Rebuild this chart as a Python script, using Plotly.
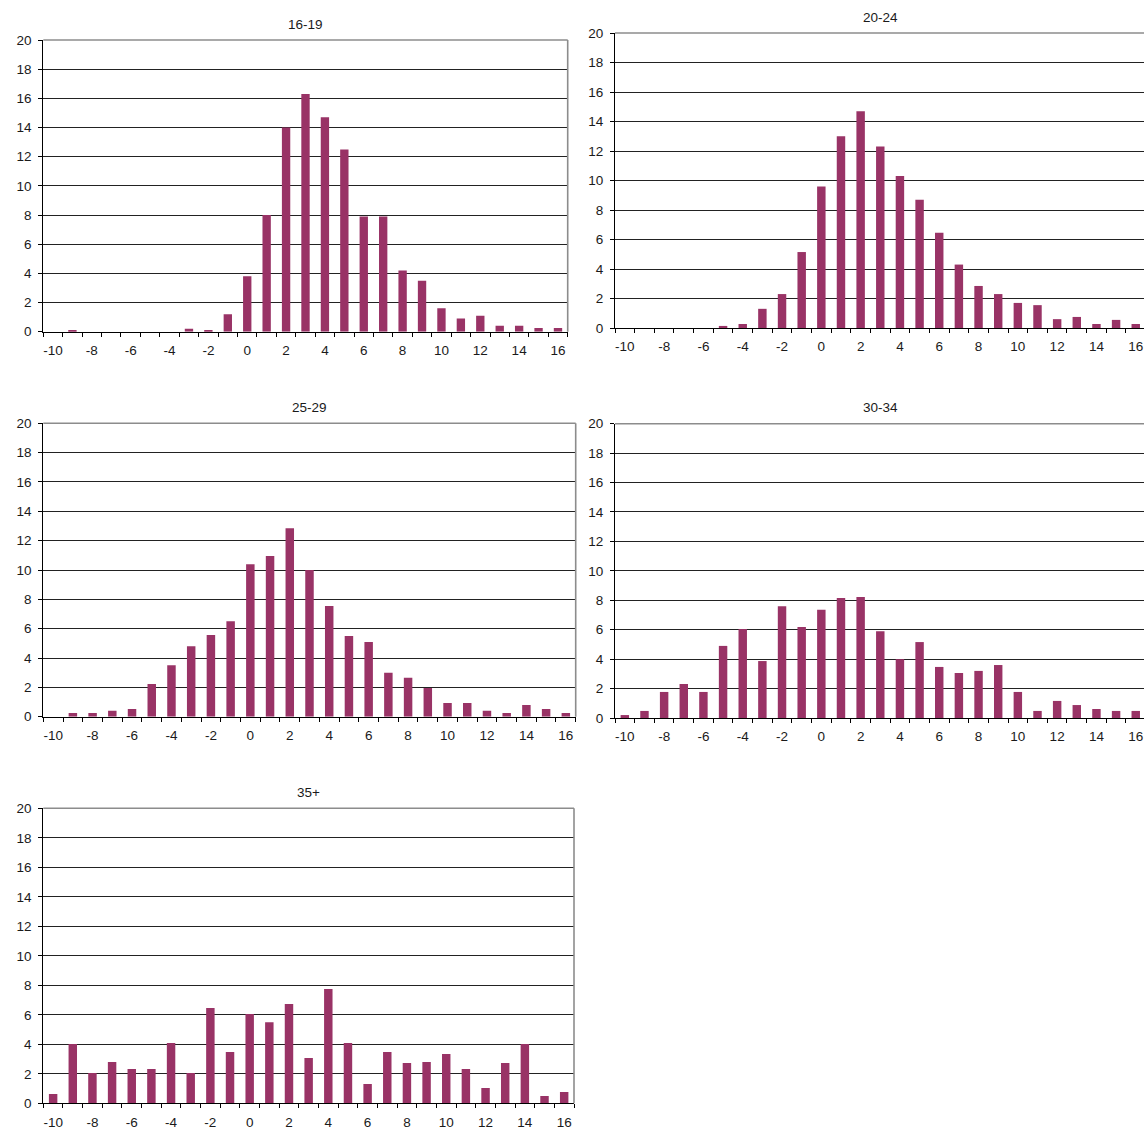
import plotly.graph_objects as go

# ---------------- data ----------------
categories = [-10, -9, -8, -7, -6, -5, -4, -3, -2, -1, 0, 1, 2, 3, 4, 5, 6, 7, 8, 9, 10, 11, 12, 13, 14, 15, 16]
tick_labels = [-10, -8, -6, -4, -2, 0, 2, 4, 6, 8, 10, 12, 14, 16]

titles = ["16-19", "20-24", "25-29", "30-34", "35+"]

v16_19 = [0, 0.1, 0, 0, 0, 0, 0, 0.2, 0.1, 1.2, 3.8, 8.0, 14.0, 16.3, 14.7, 12.5, 7.9, 7.9,
          4.2, 3.5, 1.6, 0.9, 1.1, 0.4, 0.4, 0.25, 0.25]
v20_24 = [0, 0, 0, 0, 0, 0.14, 0.27, 1.3, 2.3, 5.15, 9.6, 13.0, 14.7, 12.3, 10.3, 8.7, 6.45, 4.3,
          2.85, 2.3, 1.7, 1.55, 0.6, 0.75, 0.27, 0.55, 0.27]
v25_29 = [0, 0.25, 0.25, 0.4, 0.52, 2.23, 3.5, 4.8, 5.57, 6.5, 10.4, 10.95, 12.85, 10.0, 7.55, 5.5,
          5.1, 3.0, 2.65, 1.95, 0.93, 0.93, 0.4, 0.25, 0.8, 0.52, 0.25]
v30_34 = [0.2, 0.48, 1.77, 2.31, 1.77, 4.9, 6.05, 3.87, 7.6, 6.18, 7.35, 8.15, 8.22, 5.9, 4.0, 5.16,
          3.47, 3.06, 3.2, 3.6, 1.77, 0.48, 1.16, 0.88, 0.61, 0.48, 0.48]
v35_plus = [0.63, 4.02, 2.06, 2.8, 2.33, 2.33, 4.09, 2.06, 6.46, 3.48, 6.06, 5.5, 6.73, 3.07, 7.75,
            4.09, 1.31, 3.48, 2.73, 2.8, 3.34, 2.33, 1.04, 2.73, 4.02, 0.5, 0.77]

series = [v16_19, v20_24, v25_29, v30_34, v35_plus]

# ---------------- layout (pixels) ----------------
W, H = 1144, 1129
# (x_left, x_right, y_top, y_bottom, x_range_max, draw_right_border)
panels = [
    (43.3, 567.7, 40.0, 331.7, 16.5, True),
    (615.0, 1144.0, 33.0, 328.0, 16.42, False),
    (43.3, 575.7, 423.3, 716.7, 16.5, True),
    (615.0, 1144.0, 423.7, 718.0, 16.42, False),
    (43.3, 574.0, 808.3, 1103.3, 16.5, True),
]

BAR = "#993366"
FONT = "Arial, Liberation Sans, sans-serif"
TXT = "#1a1a1a"
TICK_SIZE = 13.5
TITLE_SIZE = 13.5

boundaries = [c - 0.5 for c in categories] + [categories[-1] + 0.5]

fig = go.Figure()
layout = dict(
    width=W, height=H,
    margin=dict(l=0, r=0, t=0, b=0, pad=0),
    paper_bgcolor="white", plot_bgcolor="white",
    showlegend=False, bargap=0.56,
    font=dict(family=FONT, size=TICK_SIZE, color=TXT),
)
shapes = []
annotations = []

for i, (vals, title, p) in enumerate(zip(series, titles, panels)):
    xl, xr, yt, yb, xmax, rborder = p
    n = "" if i == 0 else str(i + 1)
    xa, ya = "x" + n, "y" + n
    fig.add_trace(go.Bar(x=categories, y=vals, marker=dict(color=BAR, line=dict(width=0)),
                         xaxis=xa, yaxis=ya, width=0.43, cliponaxis=True))
    layout["xaxis" + n] = dict(
        domain=[xl / W, xr / W], anchor=ya, range=[-10.5, xmax], automargin=False,
        tickmode="array", tickvals=tick_labels, ticktext=[str(t) for t in tick_labels],
        ticks="outside", ticklen=0, ticklabelstandoff=6, ticklabeloverflow="allow",
        showline=True, linecolor="#000", linewidth=1.2,
        showgrid=False, zeroline=False,
        minor=dict(tickmode="array", tickvals=boundaries, ticks="outside",
                   ticklen=4, tickcolor="#000", tickwidth=1, showgrid=False),
        tickfont=dict(family=FONT, size=TICK_SIZE, color=TXT),
        fixedrange=True,
    )
    layout["yaxis" + n] = dict(
        domain=[1 - yb / H, 1 - yt / H], anchor=xa, range=[0, 20], automargin=False,
        tickmode="linear", tick0=0, dtick=2,
        ticks="outside", ticklen=4, tickcolor="#000", ticklabelstandoff=4,
        showline=True, linecolor="#000", linewidth=1.2,
        showgrid=True, gridcolor="#222", gridwidth=1, zeroline=False,
        tickfont=dict(family=FONT, size=TICK_SIZE, color=TXT),
        fixedrange=True,
    )
    # top border (gray)
    shapes.append(dict(type="line", xref=xa + " domain", yref=ya + " domain",
                       x0=0, x1=1, y0=1, y1=1, line=dict(color="#8c8c8c", width=1.6)))
    if rborder:
        shapes.append(dict(type="line", xref=xa + " domain", yref=ya + " domain",
                           x0=1, x1=1, y0=0, y1=1, line=dict(color="#8c8c8c", width=1.6)))
    # title
    full_right = xl + 27 * (xr - xl) / (xmax + 10.5)
    annotations.append(dict(text=title, xref="paper", yref="paper",
                            x=((xl + full_right) / 2) / W, y=1 - (yt - 16) / H,
                            xanchor="center", yanchor="middle", showarrow=False,
                            font=dict(family=FONT, size=TITLE_SIZE, color=TXT)))

layout["shapes"] = shapes
layout["annotations"] = annotations
fig.update_layout(**layout)
fig.write_html("out.html", config={"displayModeBar": False},
               post_script="document.body.style.margin='0';document.body.style.overflow='hidden';")
